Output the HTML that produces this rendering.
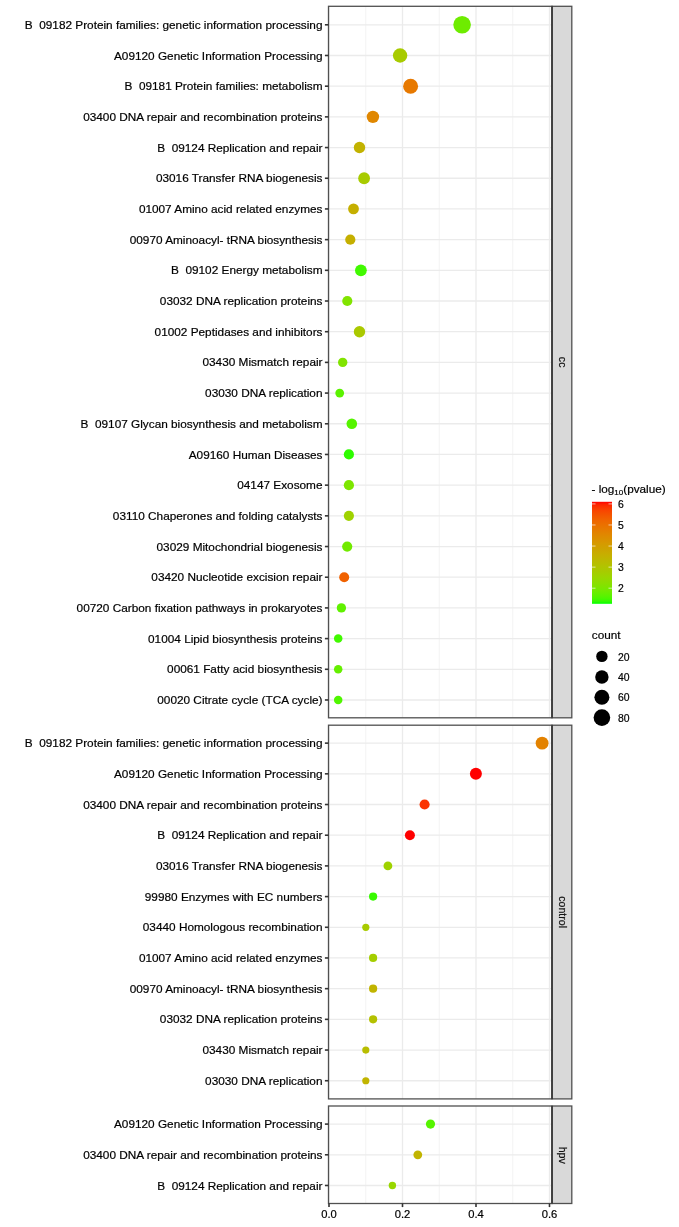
<!DOCTYPE html><html><head><meta charset="utf-8"><style>html,body{margin:0;padding:0;background:#fff;}svg{display:block;will-change:transform;}text{font-family:"Liberation Sans",sans-serif;stroke:currentColor;stroke-width:0.2px;white-space:pre;}</style></head><body>
<svg width="679" height="1227" viewBox="0 0 679 1227">
<rect width="679" height="1227" fill="#fff"/>
<line x1="365.75" y1="6.30" x2="365.75" y2="717.80" stroke="#F3F3F3" stroke-width="1.0"/>
<line x1="439.25" y1="6.30" x2="439.25" y2="717.80" stroke="#F3F3F3" stroke-width="1.0"/>
<line x1="512.75" y1="6.30" x2="512.75" y2="717.80" stroke="#F3F3F3" stroke-width="1.0"/>
<line x1="329.00" y1="6.30" x2="329.00" y2="717.80" stroke="#EBEBEB" stroke-width="1.3"/>
<line x1="402.50" y1="6.30" x2="402.50" y2="717.80" stroke="#EBEBEB" stroke-width="1.3"/>
<line x1="476.00" y1="6.30" x2="476.00" y2="717.80" stroke="#EBEBEB" stroke-width="1.3"/>
<line x1="549.50" y1="6.30" x2="549.50" y2="717.80" stroke="#EBEBEB" stroke-width="1.3"/>
<line x1="328.50" y1="24.80" x2="552.00" y2="24.80" stroke="#EBEBEB" stroke-width="1.3"/>
<line x1="328.50" y1="55.49" x2="552.00" y2="55.49" stroke="#EBEBEB" stroke-width="1.3"/>
<line x1="328.50" y1="86.18" x2="552.00" y2="86.18" stroke="#EBEBEB" stroke-width="1.3"/>
<line x1="328.50" y1="116.87" x2="552.00" y2="116.87" stroke="#EBEBEB" stroke-width="1.3"/>
<line x1="328.50" y1="147.56" x2="552.00" y2="147.56" stroke="#EBEBEB" stroke-width="1.3"/>
<line x1="328.50" y1="178.25" x2="552.00" y2="178.25" stroke="#EBEBEB" stroke-width="1.3"/>
<line x1="328.50" y1="208.94" x2="552.00" y2="208.94" stroke="#EBEBEB" stroke-width="1.3"/>
<line x1="328.50" y1="239.63" x2="552.00" y2="239.63" stroke="#EBEBEB" stroke-width="1.3"/>
<line x1="328.50" y1="270.32" x2="552.00" y2="270.32" stroke="#EBEBEB" stroke-width="1.3"/>
<line x1="328.50" y1="301.01" x2="552.00" y2="301.01" stroke="#EBEBEB" stroke-width="1.3"/>
<line x1="328.50" y1="331.70" x2="552.00" y2="331.70" stroke="#EBEBEB" stroke-width="1.3"/>
<line x1="328.50" y1="362.39" x2="552.00" y2="362.39" stroke="#EBEBEB" stroke-width="1.3"/>
<line x1="328.50" y1="393.08" x2="552.00" y2="393.08" stroke="#EBEBEB" stroke-width="1.3"/>
<line x1="328.50" y1="423.77" x2="552.00" y2="423.77" stroke="#EBEBEB" stroke-width="1.3"/>
<line x1="328.50" y1="454.46" x2="552.00" y2="454.46" stroke="#EBEBEB" stroke-width="1.3"/>
<line x1="328.50" y1="485.15" x2="552.00" y2="485.15" stroke="#EBEBEB" stroke-width="1.3"/>
<line x1="328.50" y1="515.84" x2="552.00" y2="515.84" stroke="#EBEBEB" stroke-width="1.3"/>
<line x1="328.50" y1="546.53" x2="552.00" y2="546.53" stroke="#EBEBEB" stroke-width="1.3"/>
<line x1="328.50" y1="577.22" x2="552.00" y2="577.22" stroke="#EBEBEB" stroke-width="1.3"/>
<line x1="328.50" y1="607.91" x2="552.00" y2="607.91" stroke="#EBEBEB" stroke-width="1.3"/>
<line x1="328.50" y1="638.60" x2="552.00" y2="638.60" stroke="#EBEBEB" stroke-width="1.3"/>
<line x1="328.50" y1="669.29" x2="552.00" y2="669.29" stroke="#EBEBEB" stroke-width="1.3"/>
<line x1="328.50" y1="699.98" x2="552.00" y2="699.98" stroke="#EBEBEB" stroke-width="1.3"/>
<circle cx="462.10" cy="24.80" r="8.80" fill="#6EEC00"/>
<circle cx="400.10" cy="55.49" r="7.20" fill="#A8CB00"/>
<circle cx="410.60" cy="86.18" r="7.50" fill="#E77900"/>
<circle cx="372.90" cy="116.87" r="6.20" fill="#E08700"/>
<circle cx="359.50" cy="147.56" r="5.70" fill="#C2B200"/>
<circle cx="364.10" cy="178.25" r="5.90" fill="#A8CB00"/>
<circle cx="353.50" cy="208.94" r="5.40" fill="#C5AF00"/>
<circle cx="350.30" cy="239.63" r="5.10" fill="#C5AF00"/>
<circle cx="360.90" cy="270.32" r="5.90" fill="#41F900"/>
<circle cx="347.30" cy="301.01" r="5.10" fill="#81E400"/>
<circle cx="359.50" cy="331.70" r="5.70" fill="#AAC900"/>
<circle cx="342.70" cy="362.39" r="4.70" fill="#81E400"/>
<circle cx="339.70" cy="393.08" r="4.40" fill="#5BF200"/>
<circle cx="351.80" cy="423.77" r="5.30" fill="#56F400"/>
<circle cx="348.90" cy="454.46" r="5.10" fill="#2EFC00"/>
<circle cx="348.90" cy="485.15" r="5.10" fill="#7DE600"/>
<circle cx="348.90" cy="515.84" r="5.10" fill="#9FD200"/>
<circle cx="347.20" cy="546.53" r="5.10" fill="#72EA00"/>
<circle cx="344.20" cy="577.22" r="5.00" fill="#F06100"/>
<circle cx="341.40" cy="607.91" r="4.65" fill="#60F100"/>
<circle cx="338.20" cy="638.60" r="4.25" fill="#41F900"/>
<circle cx="338.20" cy="669.29" r="4.25" fill="#65EF00"/>
<circle cx="338.20" cy="699.98" r="4.25" fill="#50F600"/>
<rect x="328.50" y="6.30" width="223.50" height="711.50" fill="none" stroke="#505050" stroke-width="1.3"/>
<rect x="552.00" y="6.30" width="19.8" height="711.50" fill="#D9D9D9" stroke="#505050" stroke-width="1.3"/>
<line x1="552.10" y1="6.30" x2="552.10" y2="717.80" stroke="#303030" stroke-width="1.4"/>
<text x="0" y="0" transform="translate(558.70,362.15) rotate(90)" text-anchor="middle" font-size="10.6" fill="#1A1A1A">cc</text>
<line x1="324.90" y1="24.80" x2="328.50" y2="24.80" stroke="#333333" stroke-width="1.6"/>
<text x="322.5" y="28.90" text-anchor="end" font-size="11.8" fill="#000000" color="#000000" xml:space="preserve">B  09182 Protein families: genetic information processing</text>
<line x1="324.90" y1="55.49" x2="328.50" y2="55.49" stroke="#333333" stroke-width="1.6"/>
<text x="322.5" y="59.59" text-anchor="end" font-size="11.8" fill="#000000" color="#000000" xml:space="preserve">A09120 Genetic Information Processing</text>
<line x1="324.90" y1="86.18" x2="328.50" y2="86.18" stroke="#333333" stroke-width="1.6"/>
<text x="322.5" y="90.28" text-anchor="end" font-size="11.8" fill="#000000" color="#000000" xml:space="preserve">B  09181 Protein families: metabolism</text>
<line x1="324.90" y1="116.87" x2="328.50" y2="116.87" stroke="#333333" stroke-width="1.6"/>
<text x="322.5" y="120.97" text-anchor="end" font-size="11.8" fill="#000000" color="#000000" xml:space="preserve">03400 DNA repair and recombination proteins</text>
<line x1="324.90" y1="147.56" x2="328.50" y2="147.56" stroke="#333333" stroke-width="1.6"/>
<text x="322.5" y="151.66" text-anchor="end" font-size="11.8" fill="#000000" color="#000000" xml:space="preserve">B  09124 Replication and repair</text>
<line x1="324.90" y1="178.25" x2="328.50" y2="178.25" stroke="#333333" stroke-width="1.6"/>
<text x="322.5" y="182.35" text-anchor="end" font-size="11.8" fill="#000000" color="#000000" xml:space="preserve">03016 Transfer RNA biogenesis</text>
<line x1="324.90" y1="208.94" x2="328.50" y2="208.94" stroke="#333333" stroke-width="1.6"/>
<text x="322.5" y="213.04" text-anchor="end" font-size="11.8" fill="#000000" color="#000000" xml:space="preserve">01007 Amino acid related enzymes</text>
<line x1="324.90" y1="239.63" x2="328.50" y2="239.63" stroke="#333333" stroke-width="1.6"/>
<text x="322.5" y="243.73" text-anchor="end" font-size="11.8" fill="#000000" color="#000000" xml:space="preserve">00970 Aminoacyl- tRNA biosynthesis</text>
<line x1="324.90" y1="270.32" x2="328.50" y2="270.32" stroke="#333333" stroke-width="1.6"/>
<text x="322.5" y="274.42" text-anchor="end" font-size="11.8" fill="#000000" color="#000000" xml:space="preserve">B  09102 Energy metabolism</text>
<line x1="324.90" y1="301.01" x2="328.50" y2="301.01" stroke="#333333" stroke-width="1.6"/>
<text x="322.5" y="305.11" text-anchor="end" font-size="11.8" fill="#000000" color="#000000" xml:space="preserve">03032 DNA replication proteins</text>
<line x1="324.90" y1="331.70" x2="328.50" y2="331.70" stroke="#333333" stroke-width="1.6"/>
<text x="322.5" y="335.80" text-anchor="end" font-size="11.8" fill="#000000" color="#000000" xml:space="preserve">01002 Peptidases and inhibitors</text>
<line x1="324.90" y1="362.39" x2="328.50" y2="362.39" stroke="#333333" stroke-width="1.6"/>
<text x="322.5" y="366.49" text-anchor="end" font-size="11.8" fill="#000000" color="#000000" xml:space="preserve">03430 Mismatch repair</text>
<line x1="324.90" y1="393.08" x2="328.50" y2="393.08" stroke="#333333" stroke-width="1.6"/>
<text x="322.5" y="397.18" text-anchor="end" font-size="11.8" fill="#000000" color="#000000" xml:space="preserve">03030 DNA replication</text>
<line x1="324.90" y1="423.77" x2="328.50" y2="423.77" stroke="#333333" stroke-width="1.6"/>
<text x="322.5" y="427.87" text-anchor="end" font-size="11.8" fill="#000000" color="#000000" xml:space="preserve">B  09107 Glycan biosynthesis and metabolism</text>
<line x1="324.90" y1="454.46" x2="328.50" y2="454.46" stroke="#333333" stroke-width="1.6"/>
<text x="322.5" y="458.56" text-anchor="end" font-size="11.8" fill="#000000" color="#000000" xml:space="preserve">A09160 Human Diseases</text>
<line x1="324.90" y1="485.15" x2="328.50" y2="485.15" stroke="#333333" stroke-width="1.6"/>
<text x="322.5" y="489.25" text-anchor="end" font-size="11.8" fill="#000000" color="#000000" xml:space="preserve">04147 Exosome</text>
<line x1="324.90" y1="515.84" x2="328.50" y2="515.84" stroke="#333333" stroke-width="1.6"/>
<text x="322.5" y="519.94" text-anchor="end" font-size="11.8" fill="#000000" color="#000000" xml:space="preserve">03110 Chaperones and folding catalysts</text>
<line x1="324.90" y1="546.53" x2="328.50" y2="546.53" stroke="#333333" stroke-width="1.6"/>
<text x="322.5" y="550.63" text-anchor="end" font-size="11.8" fill="#000000" color="#000000" xml:space="preserve">03029 Mitochondrial biogenesis</text>
<line x1="324.90" y1="577.22" x2="328.50" y2="577.22" stroke="#333333" stroke-width="1.6"/>
<text x="322.5" y="581.32" text-anchor="end" font-size="11.8" fill="#000000" color="#000000" xml:space="preserve">03420 Nucleotide excision repair</text>
<line x1="324.90" y1="607.91" x2="328.50" y2="607.91" stroke="#333333" stroke-width="1.6"/>
<text x="322.5" y="612.01" text-anchor="end" font-size="11.8" fill="#000000" color="#000000" xml:space="preserve">00720 Carbon fixation pathways in prokaryotes</text>
<line x1="324.90" y1="638.60" x2="328.50" y2="638.60" stroke="#333333" stroke-width="1.6"/>
<text x="322.5" y="642.70" text-anchor="end" font-size="11.8" fill="#000000" color="#000000" xml:space="preserve">01004 Lipid biosynthesis proteins</text>
<line x1="324.90" y1="669.29" x2="328.50" y2="669.29" stroke="#333333" stroke-width="1.6"/>
<text x="322.5" y="673.39" text-anchor="end" font-size="11.8" fill="#000000" color="#000000" xml:space="preserve">00061 Fatty acid biosynthesis</text>
<line x1="324.90" y1="699.98" x2="328.50" y2="699.98" stroke="#333333" stroke-width="1.6"/>
<text x="322.5" y="704.08" text-anchor="end" font-size="11.8" fill="#000000" color="#000000" xml:space="preserve">00020 Citrate cycle (TCA cycle)</text>
<line x1="365.75" y1="725.20" x2="365.75" y2="1098.90" stroke="#F3F3F3" stroke-width="1.0"/>
<line x1="439.25" y1="725.20" x2="439.25" y2="1098.90" stroke="#F3F3F3" stroke-width="1.0"/>
<line x1="512.75" y1="725.20" x2="512.75" y2="1098.90" stroke="#F3F3F3" stroke-width="1.0"/>
<line x1="329.00" y1="725.20" x2="329.00" y2="1098.90" stroke="#EBEBEB" stroke-width="1.3"/>
<line x1="402.50" y1="725.20" x2="402.50" y2="1098.90" stroke="#EBEBEB" stroke-width="1.3"/>
<line x1="476.00" y1="725.20" x2="476.00" y2="1098.90" stroke="#EBEBEB" stroke-width="1.3"/>
<line x1="549.50" y1="725.20" x2="549.50" y2="1098.90" stroke="#EBEBEB" stroke-width="1.3"/>
<line x1="328.50" y1="743.14" x2="552.00" y2="743.14" stroke="#EBEBEB" stroke-width="1.3"/>
<line x1="328.50" y1="773.83" x2="552.00" y2="773.83" stroke="#EBEBEB" stroke-width="1.3"/>
<line x1="328.50" y1="804.52" x2="552.00" y2="804.52" stroke="#EBEBEB" stroke-width="1.3"/>
<line x1="328.50" y1="835.21" x2="552.00" y2="835.21" stroke="#EBEBEB" stroke-width="1.3"/>
<line x1="328.50" y1="865.90" x2="552.00" y2="865.90" stroke="#EBEBEB" stroke-width="1.3"/>
<line x1="328.50" y1="896.59" x2="552.00" y2="896.59" stroke="#EBEBEB" stroke-width="1.3"/>
<line x1="328.50" y1="927.28" x2="552.00" y2="927.28" stroke="#EBEBEB" stroke-width="1.3"/>
<line x1="328.50" y1="957.97" x2="552.00" y2="957.97" stroke="#EBEBEB" stroke-width="1.3"/>
<line x1="328.50" y1="988.66" x2="552.00" y2="988.66" stroke="#EBEBEB" stroke-width="1.3"/>
<line x1="328.50" y1="1019.35" x2="552.00" y2="1019.35" stroke="#EBEBEB" stroke-width="1.3"/>
<line x1="328.50" y1="1050.04" x2="552.00" y2="1050.04" stroke="#EBEBEB" stroke-width="1.3"/>
<line x1="328.50" y1="1080.73" x2="552.00" y2="1080.73" stroke="#EBEBEB" stroke-width="1.3"/>
<circle cx="542.10" cy="743.14" r="6.40" fill="#E38200"/>
<circle cx="475.90" cy="773.83" r="6.00" fill="#FF0000"/>
<circle cx="424.60" cy="804.52" r="5.05" fill="#FB3300"/>
<circle cx="409.90" cy="835.21" r="5.00" fill="#FF0000"/>
<circle cx="387.90" cy="865.90" r="4.40" fill="#9FD200"/>
<circle cx="373.10" cy="896.59" r="4.10" fill="#38FA00"/>
<circle cx="365.80" cy="927.28" r="3.60" fill="#A8CB00"/>
<circle cx="373.10" cy="957.97" r="4.10" fill="#A4CE00"/>
<circle cx="373.10" cy="988.66" r="4.10" fill="#C1B400"/>
<circle cx="373.10" cy="1019.35" r="4.10" fill="#B4C100"/>
<circle cx="365.80" cy="1050.04" r="3.60" fill="#B8BD00"/>
<circle cx="365.80" cy="1080.73" r="3.60" fill="#C1B400"/>
<rect x="328.50" y="725.20" width="223.50" height="373.70" fill="none" stroke="#505050" stroke-width="1.3"/>
<rect x="552.00" y="725.20" width="19.8" height="373.70" fill="#D9D9D9" stroke="#505050" stroke-width="1.3"/>
<line x1="552.10" y1="725.20" x2="552.10" y2="1098.90" stroke="#303030" stroke-width="1.4"/>
<text x="0" y="0" transform="translate(558.70,912.15) rotate(90)" text-anchor="middle" font-size="10.6" fill="#1A1A1A">control</text>
<line x1="324.90" y1="743.14" x2="328.50" y2="743.14" stroke="#333333" stroke-width="1.6"/>
<text x="322.5" y="747.24" text-anchor="end" font-size="11.8" fill="#000000" color="#000000" xml:space="preserve">B  09182 Protein families: genetic information processing</text>
<line x1="324.90" y1="773.83" x2="328.50" y2="773.83" stroke="#333333" stroke-width="1.6"/>
<text x="322.5" y="777.93" text-anchor="end" font-size="11.8" fill="#000000" color="#000000" xml:space="preserve">A09120 Genetic Information Processing</text>
<line x1="324.90" y1="804.52" x2="328.50" y2="804.52" stroke="#333333" stroke-width="1.6"/>
<text x="322.5" y="808.62" text-anchor="end" font-size="11.8" fill="#000000" color="#000000" xml:space="preserve">03400 DNA repair and recombination proteins</text>
<line x1="324.90" y1="835.21" x2="328.50" y2="835.21" stroke="#333333" stroke-width="1.6"/>
<text x="322.5" y="839.31" text-anchor="end" font-size="11.8" fill="#000000" color="#000000" xml:space="preserve">B  09124 Replication and repair</text>
<line x1="324.90" y1="865.90" x2="328.50" y2="865.90" stroke="#333333" stroke-width="1.6"/>
<text x="322.5" y="870.00" text-anchor="end" font-size="11.8" fill="#000000" color="#000000" xml:space="preserve">03016 Transfer RNA biogenesis</text>
<line x1="324.90" y1="896.59" x2="328.50" y2="896.59" stroke="#333333" stroke-width="1.6"/>
<text x="322.5" y="900.69" text-anchor="end" font-size="11.8" fill="#000000" color="#000000" xml:space="preserve">99980 Enzymes with EC numbers</text>
<line x1="324.90" y1="927.28" x2="328.50" y2="927.28" stroke="#333333" stroke-width="1.6"/>
<text x="322.5" y="931.38" text-anchor="end" font-size="11.8" fill="#000000" color="#000000" xml:space="preserve">03440 Homologous recombination</text>
<line x1="324.90" y1="957.97" x2="328.50" y2="957.97" stroke="#333333" stroke-width="1.6"/>
<text x="322.5" y="962.07" text-anchor="end" font-size="11.8" fill="#000000" color="#000000" xml:space="preserve">01007 Amino acid related enzymes</text>
<line x1="324.90" y1="988.66" x2="328.50" y2="988.66" stroke="#333333" stroke-width="1.6"/>
<text x="322.5" y="992.76" text-anchor="end" font-size="11.8" fill="#000000" color="#000000" xml:space="preserve">00970 Aminoacyl- tRNA biosynthesis</text>
<line x1="324.90" y1="1019.35" x2="328.50" y2="1019.35" stroke="#333333" stroke-width="1.6"/>
<text x="322.5" y="1023.45" text-anchor="end" font-size="11.8" fill="#000000" color="#000000" xml:space="preserve">03032 DNA replication proteins</text>
<line x1="324.90" y1="1050.04" x2="328.50" y2="1050.04" stroke="#333333" stroke-width="1.6"/>
<text x="322.5" y="1054.14" text-anchor="end" font-size="11.8" fill="#000000" color="#000000" xml:space="preserve">03430 Mismatch repair</text>
<line x1="324.90" y1="1080.73" x2="328.50" y2="1080.73" stroke="#333333" stroke-width="1.6"/>
<text x="322.5" y="1084.83" text-anchor="end" font-size="11.8" fill="#000000" color="#000000" xml:space="preserve">03030 DNA replication</text>
<line x1="365.75" y1="1106.00" x2="365.75" y2="1203.50" stroke="#F3F3F3" stroke-width="1.0"/>
<line x1="439.25" y1="1106.00" x2="439.25" y2="1203.50" stroke="#F3F3F3" stroke-width="1.0"/>
<line x1="512.75" y1="1106.00" x2="512.75" y2="1203.50" stroke="#F3F3F3" stroke-width="1.0"/>
<line x1="329.00" y1="1106.00" x2="329.00" y2="1203.50" stroke="#EBEBEB" stroke-width="1.3"/>
<line x1="402.50" y1="1106.00" x2="402.50" y2="1203.50" stroke="#EBEBEB" stroke-width="1.3"/>
<line x1="476.00" y1="1106.00" x2="476.00" y2="1203.50" stroke="#EBEBEB" stroke-width="1.3"/>
<line x1="549.50" y1="1106.00" x2="549.50" y2="1203.50" stroke="#EBEBEB" stroke-width="1.3"/>
<line x1="328.50" y1="1124.10" x2="552.00" y2="1124.10" stroke="#EBEBEB" stroke-width="1.3"/>
<line x1="328.50" y1="1154.79" x2="552.00" y2="1154.79" stroke="#EBEBEB" stroke-width="1.3"/>
<line x1="328.50" y1="1185.48" x2="552.00" y2="1185.48" stroke="#EBEBEB" stroke-width="1.3"/>
<circle cx="430.50" cy="1124.10" r="4.60" fill="#56F400"/>
<circle cx="417.80" cy="1154.79" r="4.40" fill="#C1B400"/>
<circle cx="392.40" cy="1185.48" r="3.70" fill="#98D700"/>
<rect x="328.50" y="1106.00" width="223.50" height="97.50" fill="none" stroke="#505050" stroke-width="1.3"/>
<rect x="552.00" y="1106.00" width="19.8" height="97.50" fill="#D9D9D9" stroke="#505050" stroke-width="1.3"/>
<line x1="552.10" y1="1106.00" x2="552.10" y2="1203.50" stroke="#303030" stroke-width="1.4"/>
<text x="0" y="0" transform="translate(558.70,1155.25) rotate(90)" text-anchor="middle" font-size="10.6" fill="#1A1A1A">hpv</text>
<line x1="324.90" y1="1124.10" x2="328.50" y2="1124.10" stroke="#333333" stroke-width="1.6"/>
<text x="322.5" y="1128.20" text-anchor="end" font-size="11.8" fill="#000000" color="#000000" xml:space="preserve">A09120 Genetic Information Processing</text>
<line x1="324.90" y1="1154.79" x2="328.50" y2="1154.79" stroke="#333333" stroke-width="1.6"/>
<text x="322.5" y="1158.89" text-anchor="end" font-size="11.8" fill="#000000" color="#000000" xml:space="preserve">03400 DNA repair and recombination proteins</text>
<line x1="324.90" y1="1185.48" x2="328.50" y2="1185.48" stroke="#333333" stroke-width="1.6"/>
<text x="322.5" y="1189.58" text-anchor="end" font-size="11.8" fill="#000000" color="#000000" xml:space="preserve">B  09124 Replication and repair</text>
<line x1="329.00" y1="1203.50" x2="329.00" y2="1207.10" stroke="#333333" stroke-width="1.6"/>
<text x="329.00" y="1217.60" text-anchor="middle" font-size="11.2" fill="#000000">0.0</text>
<line x1="402.50" y1="1203.50" x2="402.50" y2="1207.10" stroke="#333333" stroke-width="1.6"/>
<text x="402.50" y="1217.60" text-anchor="middle" font-size="11.2" fill="#000000">0.2</text>
<line x1="476.00" y1="1203.50" x2="476.00" y2="1207.10" stroke="#333333" stroke-width="1.6"/>
<text x="476.00" y="1217.60" text-anchor="middle" font-size="11.2" fill="#000000">0.4</text>
<line x1="549.50" y1="1203.50" x2="549.50" y2="1207.10" stroke="#333333" stroke-width="1.6"/>
<text x="549.50" y="1217.60" text-anchor="middle" font-size="11.2" fill="#000000">0.6</text>
<defs><linearGradient id="cb" x1="0" y1="0" x2="0" y2="1"><stop offset="0.0000" stop-color="#FF0000"/><stop offset="0.0250" stop-color="#FD2300"/><stop offset="0.0500" stop-color="#FB3300"/><stop offset="0.0750" stop-color="#F94000"/><stop offset="0.1000" stop-color="#F74A00"/><stop offset="0.1250" stop-color="#F45300"/><stop offset="0.1500" stop-color="#F25B00"/><stop offset="0.1750" stop-color="#F06300"/><stop offset="0.2000" stop-color="#ED6A00"/><stop offset="0.2250" stop-color="#EB7000"/><stop offset="0.2500" stop-color="#E87600"/><stop offset="0.2750" stop-color="#E67C00"/><stop offset="0.3000" stop-color="#E38200"/><stop offset="0.3250" stop-color="#E08800"/><stop offset="0.3500" stop-color="#DD8D00"/><stop offset="0.3750" stop-color="#DA9200"/><stop offset="0.4000" stop-color="#D79800"/><stop offset="0.4250" stop-color="#D39D00"/><stop offset="0.4500" stop-color="#D0A100"/><stop offset="0.4750" stop-color="#CCA600"/><stop offset="0.5000" stop-color="#C9AB00"/><stop offset="0.5250" stop-color="#C5B000"/><stop offset="0.5500" stop-color="#C1B400"/><stop offset="0.5750" stop-color="#BCB900"/><stop offset="0.6000" stop-color="#B8BD00"/><stop offset="0.6250" stop-color="#B3C200"/><stop offset="0.6500" stop-color="#AEC600"/><stop offset="0.6750" stop-color="#A9CA00"/><stop offset="0.7000" stop-color="#A4CE00"/><stop offset="0.7250" stop-color="#9ED300"/><stop offset="0.7500" stop-color="#98D700"/><stop offset="0.7750" stop-color="#91DB00"/><stop offset="0.8000" stop-color="#8ADF00"/><stop offset="0.8250" stop-color="#82E300"/><stop offset="0.8500" stop-color="#7AE700"/><stop offset="0.8750" stop-color="#70EB00"/><stop offset="0.9000" stop-color="#65EF00"/><stop offset="0.9250" stop-color="#59F300"/><stop offset="0.9500" stop-color="#49F700"/><stop offset="0.9750" stop-color="#33FB00"/><stop offset="1.0000" stop-color="#00FF00"/></linearGradient></defs>
<rect x="592.0" y="501.8" width="20" height="102.00" fill="url(#cb)"/>
<line x1="592.0" y1="588.20" x2="595.5" y2="588.20" stroke="#fff" stroke-width="0.8" stroke-opacity="0.8"/>
<line x1="608.5" y1="588.20" x2="612.0" y2="588.20" stroke="#fff" stroke-width="0.8" stroke-opacity="0.8"/>
<text x="618" y="592.10" font-size="10.4" fill="#000000">2</text>
<line x1="592.0" y1="567.13" x2="595.5" y2="567.13" stroke="#fff" stroke-width="0.8" stroke-opacity="0.8"/>
<line x1="608.5" y1="567.13" x2="612.0" y2="567.13" stroke="#fff" stroke-width="0.8" stroke-opacity="0.8"/>
<text x="618" y="571.03" font-size="10.4" fill="#000000">3</text>
<line x1="592.0" y1="546.06" x2="595.5" y2="546.06" stroke="#fff" stroke-width="0.8" stroke-opacity="0.8"/>
<line x1="608.5" y1="546.06" x2="612.0" y2="546.06" stroke="#fff" stroke-width="0.8" stroke-opacity="0.8"/>
<text x="618" y="549.96" font-size="10.4" fill="#000000">4</text>
<line x1="592.0" y1="524.98" x2="595.5" y2="524.98" stroke="#fff" stroke-width="0.8" stroke-opacity="0.8"/>
<line x1="608.5" y1="524.98" x2="612.0" y2="524.98" stroke="#fff" stroke-width="0.8" stroke-opacity="0.8"/>
<text x="618" y="528.88" font-size="10.4" fill="#000000">5</text>
<line x1="592.0" y1="503.91" x2="595.5" y2="503.91" stroke="#fff" stroke-width="0.8" stroke-opacity="0.8"/>
<line x1="608.5" y1="503.91" x2="612.0" y2="503.91" stroke="#fff" stroke-width="0.8" stroke-opacity="0.8"/>
<text x="618" y="507.81" font-size="10.4" fill="#000000">6</text>
<text x="591.5" y="492.8" font-size="11.75" fill="#000000">- log<tspan font-size="8.0" dy="2.2">10</tspan><tspan dy="-2.2">(pvalue)</tspan></text>
<text x="591.8" y="639.3" font-size="11.75" fill="#000000">count</text>
<circle cx="601.9" cy="656.4" r="5.70" fill="#000"/>
<text x="618" y="660.50" font-size="10.4" fill="#000000">20</text>
<circle cx="601.9" cy="677.0" r="6.70" fill="#000"/>
<text x="618" y="681.10" font-size="10.4" fill="#000000">40</text>
<circle cx="601.9" cy="697.3" r="7.50" fill="#000"/>
<text x="618" y="701.40" font-size="10.4" fill="#000000">60</text>
<circle cx="601.9" cy="717.6" r="8.30" fill="#000"/>
<text x="618" y="721.70" font-size="10.4" fill="#000000">80</text>
</svg></body></html>
